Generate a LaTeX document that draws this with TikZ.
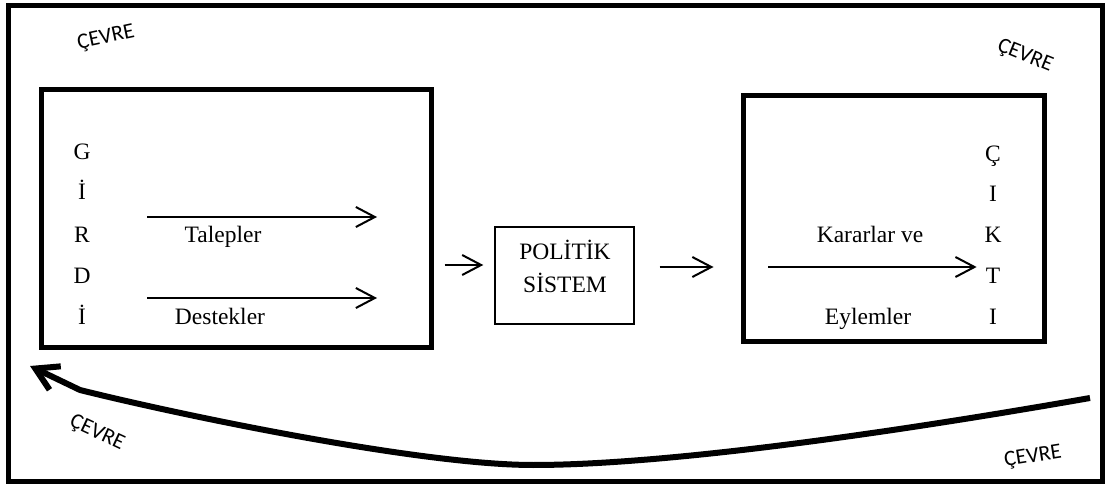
\documentclass[tikz,border=0pt]{standalone}
\usepackage{fontspec}
\setmainfont{Liberation Serif}
\newfontfamily\cevfont{Carlito}
\usetikzlibrary{arrows.meta}

\begin{document}
\begin{tikzpicture}[x=1pt,y=-1pt,
  frame/.style={draw,line width=5pt,rectangle,inner sep=0pt},
  lbl/.style={font=\fontsize{23.5}{28}\selectfont,anchor=base,inner sep=0pt},
  env/.style={font=\cevfont\fontsize{22}{26}\selectfont,inner sep=0pt},
  flow/.style={line width=2pt,-{Straight Barb[length=19pt,width=20pt]}},
  back/.style={line width=6pt,-{Straight Barb[length=22pt,width=26pt]}}]

\useasboundingbox (0,0) rectangle (1106,486);

% outer frame
\draw[line width=5pt] (8.5,6) rectangle (1102,481);

% environment labels
\node[env,rotate=12]  (envtl) at (106,38)   {ÇEVRE};
\node[env,rotate=-22] (envtr) at (1025,56)  {ÇEVRE};
\node[env,rotate=-25] (envbl) at (97,433)   {ÇEVRE};
\node[env,rotate=9]   (envbr) at (1033,457) {ÇEVRE};

% input box
\node[frame,minimum width=390pt,minimum height=258pt] (inbox) at (236,219) {};
\node[lbl] (g1) at (82,160) {G};
\node[lbl] (g2) at (82,200) {İ};
\node[lbl] (g3) at (82,243) {R};
\node[lbl] (g4) at (82,284) {D};
\node[lbl] (g5) at (82,325) {İ};
\node[lbl] (talep) at (223,243) {Talepler};
\node[lbl] (destek) at (220,325) {Destekler};
\coordinate (ta) at (147,217);
\coordinate (tb) at (377,217);
\coordinate (da) at (147,298);
\coordinate (db) at (377,298);
\draw[flow] (ta) -- (tb);
\draw[flow] (da) -- (db);

% political system
\node[draw,line width=1.4pt,minimum width=139pt,minimum height=97pt,inner sep=0pt] (pol) at (564.5,275.5) {};
\node[lbl] (pol1) at (565,260) {POLİTİK};
\node[lbl] (pol2) at (565,293) {SİSTEM};

% output box
\node[frame,minimum width=301pt,minimum height=246pt] (outbox) at (893.5,219) {};
\node[lbl] (c1) at (993,162) {Ç};
\node[lbl] (c2) at (993,202) {I};
\node[lbl] (c3) at (993,243) {K};
\node[lbl] (c4) at (993,284) {T};
\node[lbl] (c5) at (993,325) {I};
\node[lbl] (karar) at (870,243) {Kararlar ve};
\node[lbl] (eylem) at (868,325) {Eylemler};
\coordinate (ka) at (768,267);
\draw[flow,shorten >=9pt] (ka) -- (c4.west |- ka);

% flow between boxes
\coordinate (m1) at (0,265);
\coordinate (m2) at (0,267);
\draw[flow,shorten <=11pt,shorten >=11pt] (inbox.east |- m1) -- (pol.west |- m1);
\draw[flow,shorten <=25pt,shorten >=27pt] (pol.east |- m2) -- (outbox.west |- m2);

% feedback
\coordinate (fb0) at (1090,398);
\coordinate (fbm) at (533,465);
\coordinate (fbk) at (80,390);
\coordinate (fbt) at (30,366);
\draw[back] (fb0) .. controls (850,440) and (650,465) .. (fbm)
  .. controls (420,465) and (180,415) .. (fbk) -- (fbt);
\end{tikzpicture}
\end{document}
